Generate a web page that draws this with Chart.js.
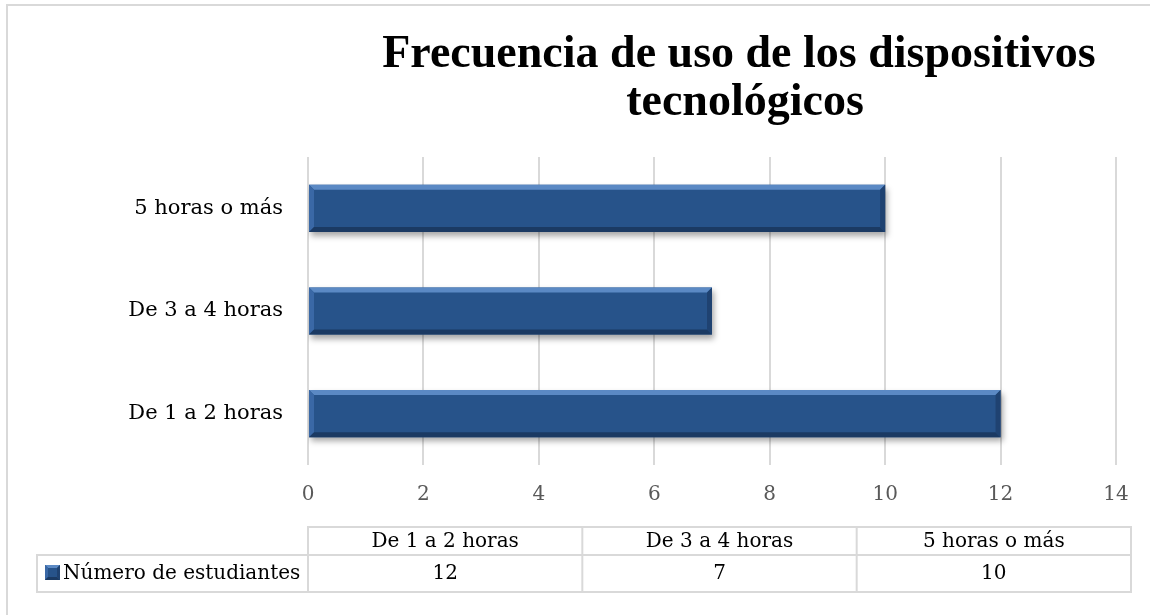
<!DOCTYPE html>
<html>
<head>
<meta charset="utf-8">
<script src="https://cdn.jsdelivr.net/npm/chart.js@4"></script>
<style>
  html, body { margin: 0; padding: 0; background: #fff; overflow: hidden; }
  .frame { position: absolute; left: 6px; top: 4px; width: 1200px; height: 700px; border: 2px solid #d9d9d9; }
  #chart { position: absolute; left: 0; top: 0; }
</style>
</head>
<body>
<div class="frame"></div>
<canvas id="chart" width="1150" height="615"></canvas>
<script>
// Data
const categories = ['De 1 a 2 horas', 'De 3 a 4 horas', '5 horas o más'];
const students = [12, 7, 10];
const seriesName = 'Número de estudiantes';
const titleLines = ['Frecuencia de uso de los dispositivos', 'tecnológicos'];
const xTicks = [0, 2, 4, 6, 8, 10, 12, 14];

const SERIF = '"DejaVu Serif", serif';
const TITLE_FONT = 'bold 46px "Liberation Serif", serif';
const BAR = '#27538a', LIGHT = '#5b89c4', DARK = '#1b3a63';

// Bevelled bar look
function bevel(ctx, x0, y0, x1, y1, b) {
    ctx.fillStyle = LIGHT;
    ctx.beginPath(); ctx.moveTo(x0, y0); ctx.lineTo(x1, y0); ctx.lineTo(x1 - b, y0 + b); ctx.lineTo(x0 + b, y0 + b); ctx.fill();
    ctx.fillStyle = '#3a68a6';
    ctx.beginPath(); ctx.moveTo(x0, y0); ctx.lineTo(x0 + b, y0 + b); ctx.lineTo(x0 + b, y1 - b); ctx.lineTo(x0, y1); ctx.fill();
    ctx.fillStyle = DARK;
    ctx.beginPath(); ctx.moveTo(x0, y1); ctx.lineTo(x1, y1); ctx.lineTo(x1 - b, y1 - b); ctx.lineTo(x0 + b, y1 - b); ctx.fill();
    ctx.fillStyle = '#1f4271';
    ctx.beginPath(); ctx.moveTo(x1, y0); ctx.lineTo(x1, y1); ctx.lineTo(x1 - b, y1 - b); ctx.lineTo(x1 - b, y0 + b); ctx.fill();
}

const barStyle = {
    id: 'barStyle',
    beforeDatasetsDraw(chart) {
        const ctx = chart.ctx;
        ctx.save();
        ctx.shadowColor = 'rgba(0,0,0,0.35)';
        ctx.shadowBlur = 6;
        ctx.shadowOffsetX = 2;
        ctx.shadowOffsetY = 4;
    },
    afterDatasetsDraw(chart) {
        const ctx = chart.ctx;
        ctx.restore();
        chart.getDatasetMeta(0).data.forEach(bar => {
            const x0 = bar.base, x1 = bar.x, y0 = bar.y - bar.height / 2, y1 = bar.y + bar.height / 2;
            bevel(ctx, x0, y0, x1, y1, 5);
        });
    }
};

// Title + data table
const extras = {
    id: 'extras',
    afterDraw(chart) {
        const ctx = chart.ctx, x = chart.scales.x;
        ctx.save();
        ctx.fillStyle = '#000';
        ctx.font = TITLE_FONT;
        ctx.textAlign = 'center';
        ctx.textBaseline = 'alphabetic';
        ctx.fillText(titleLines[0], 739, 67);
        ctx.fillText(titleLines[1], 745, 115);

        const left = x.left, right = 1131, top = 527, mid = 555, bottom = 592, legLeft = 37;
        const colW = (right - left) / categories.length;
        ctx.strokeStyle = '#d9d9d9';
        ctx.lineWidth = 2;
        ctx.strokeRect(left, top, right - left, bottom - top);
        ctx.strokeRect(legLeft, mid, right - legLeft, bottom - mid);
        for (let i = 1; i < categories.length; i++) {
            ctx.beginPath(); ctx.moveTo(left + colW * i, top); ctx.lineTo(left + colW * i, bottom); ctx.stroke();
        }
        ctx.textBaseline = 'middle';
        ctx.font = '20px ' + SERIF;
        ctx.fillStyle = '#000';
        categories.forEach((c, i) => {
            const cx = left + colW * (i + 0.5);
            ctx.fillText(c, cx, (top + mid) / 2 + 1);
            ctx.fillText(String(students[i]), cx, (mid + bottom) / 2);
        });
        // legend key
        ctx.fillStyle = BAR;
        ctx.fillRect(45, 565, 15, 15);
        bevel(ctx, 45, 565, 60, 580, 3);
        ctx.fillStyle = '#000';
        ctx.textAlign = 'left';
        ctx.fillText(seriesName, 63, (mid + bottom) / 2);
        ctx.restore();
    }
};

new Chart(document.getElementById('chart'), {
    type: 'bar',
    data: {
        labels: categories,
        datasets: [{
            label: seriesName,
            data: students,
            backgroundColor: BAR,
            borderWidth: 0,
            categoryPercentage: 1,
            barPercentage: 0.46
        }]
    },
    options: {
        indexAxis: 'y',
        responsive: false,
        animation: false,
        layout: { padding: { left: 0, right: 34, top: 157, bottom: 0 } },
        plugins: { legend: { display: false }, title: { display: false }, tooltip: { enabled: false } },
        scales: {
            x: {
                min: 0, max: 14,
                afterBuildTicks: s => { s.ticks = xTicks.map(v => ({ value: v })); },
                afterFit: s => { s.height = 150; s.paddingLeft = 0; s.paddingRight = 0; },
                grid: { color: '#d9d9d9', lineWidth: 2, drawTicks: false },
                border: { display: false },
                ticks: { color: '#595959', font: { family: SERIF, size: 20 }, padding: 18 }
            },
            y: {
                reverse: true,
                afterFit: s => { s.width = 308; },
                grid: { display: false, drawTicks: false },
                border: { display: false },
                ticks: { color: '#000', font: { family: SERIF, size: 21 }, padding: 25 }
            }
        }
    },
    plugins: [barStyle, extras]
});
</script>
</body>
</html>
